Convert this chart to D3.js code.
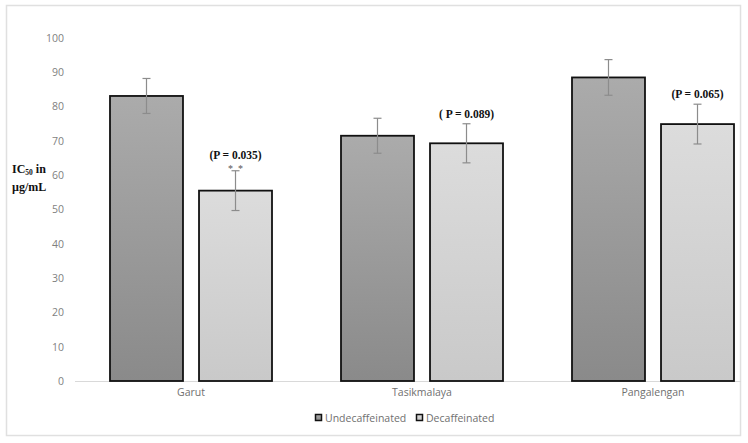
<!DOCTYPE html>
<html>
<head>
<meta charset="utf-8">
<script src="https://cdn.jsdelivr.net/npm/d3@7"></script>
<style>
  body { margin: 0; background: #fff; }
  text { font-family: "Open Sans", "Noto Sans", sans-serif; }
</style>
</head>
<body>
<div id="chart-container"></div>
<script>
var regions = ["Garut", "Tasikmalaya", "Pangalengan"];
var seriesNames = ["Undecaffeinated", "Decaffeinated"];
var undecafValues = [83.1, 71.5, 88.5];
var decafValues = [55.5, 69.3, 74.9];
var undecafErr = [5.1, 5.1, 5.2];
var decafErr = [5.8, 5.7, 5.8];
var pLabels = ["(P = 0.035)", "( P = 0.089)", "(P = 0.065)"];
var starLabels = ["*  *", "", ""];
var yTicks = [0, 10, 20, 30, 40, 50, 60, 70, 80, 90, 100];

var W = 748, H = 443;

var data = regions.map(function(r, i) {
  return {
    region: r,
    bars: [
      { series: seriesNames[0], value: undecafValues[i], err: undecafErr[i] },
      { series: seriesNames[1], value: decafValues[i], err: decafErr[i], p: pLabels[i], star: starLabels[i] }
    ]
  };
});

var svg = d3.select("#chart-container")
  .append("svg")
  .attr("width", W)
  .attr("height", H);

// gradients
var defs = svg.append("defs");
var grads = [
  { id: "g0", top: "#ababab", bottom: "#8a8a8a" },
  { id: "g1", top: "#dcdcdc", bottom: "#c9c9c9" }
];
grads.forEach(function(g) {
  var lg = defs.append("linearGradient")
    .attr("id", g.id)
    .attr("x1", 0).attr("y1", 0).attr("x2", 0).attr("y2", 1);
  lg.append("stop").attr("offset", "0%").attr("stop-color", g.top);
  lg.append("stop").attr("offset", "100%").attr("stop-color", g.bottom);
});

// frame
svg.append("rect")
  .attr("x", 6.5).attr("y", 5.5)
  .attr("width", 734).attr("height", 430)
  .attr("fill", "none")
  .attr("stroke", "#e0e0e0")
  .attr("stroke-width", 1.5);

var x0 = d3.scaleBand()
  .domain(regions)
  .range([75.5, 768.5]);

var x1 = d3.scaleBand()
  .domain(seriesNames)
  .range([34.5, x0.bandwidth() - 34.5])
  .paddingInner(0.18);

var y = d3.scaleLinear()
  .domain([0, 100])
  .range([381, 38]);

// y axis labels
var yAxis = d3.axisLeft(y).tickValues(yTicks).tickSize(0).tickPadding(0);
var yg = svg.append("g")
  .attr("transform", "translate(64,0)")
  .call(yAxis);
yg.select(".domain").remove();
yg.selectAll("text")
  .attr("fill", "#7f7f7f")
  .style("font-size", "10.5px");

// baseline
svg.append("line")
  .attr("x1", 75).attr("x2", 741)
  .attr("y1", y(0) + 0.5).attr("y2", y(0) + 0.5)
  .attr("stroke", "#d9d9d9")
  .attr("stroke-width", 1);

// x axis labels
var xAxis = d3.axisBottom(x0).tickSize(0).tickPadding(0);
var xg = svg.append("g")
  .attr("transform", "translate(0,389)")
  .call(xAxis);
xg.select(".domain").remove();
xg.selectAll("text")
  .attr("fill", "#6f6f6f")
  .style("font-size", "10.5px");

// bars
var groups = svg.selectAll(".group")
  .data(data)
  .enter()
  .append("g")
  .attr("class", "group")
  .attr("transform", function(d) { return "translate(" + x0(d.region) + ",0)"; });

var bar = groups.selectAll(".bar")
  .data(function(d) { return d.bars; })
  .enter();

bar.append("rect")
  .attr("class", "bar")
  .attr("x", function(d) { return x1(d.series); })
  .attr("y", function(d) { return y(d.value); })
  .attr("width", x1.bandwidth())
  .attr("height", function(d) { return y(0) - y(d.value); })
  .attr("fill", function(d, i) { return "url(#g" + seriesNames.indexOf(d.series) + ")"; })
  .attr("stroke", "#111")
  .attr("stroke-width", 1.8);

// error bars
var errColor = "#8c8c8c";
bar.append("line")
  .attr("x1", function(d) { return x1(d.series) + x1.bandwidth() / 2; })
  .attr("x2", function(d) { return x1(d.series) + x1.bandwidth() / 2; })
  .attr("y1", function(d) { return y(d.value + d.err); })
  .attr("y2", function(d) { return y(d.value - d.err); })
  .attr("stroke", errColor)
  .attr("stroke-width", 1.2);

[1, -1].forEach(function(s) {
  bar.append("line")
    .attr("x1", function(d) { return x1(d.series) + x1.bandwidth() / 2 - 4; })
    .attr("x2", function(d) { return x1(d.series) + x1.bandwidth() / 2 + 4; })
    .attr("y1", function(d) { return y(d.value + s * d.err); })
    .attr("y2", function(d) { return y(d.value + s * d.err); })
    .attr("stroke", errColor)
    .attr("stroke-width", 1.2);
});

// p-value annotations
var ann = groups.selectAll(".ann")
  .data(function(d) { return d.bars.filter(function(b) { return b.p; }); })
  .enter();

ann.append("text")
  .attr("x", function(d) { return x1(d.series) + x1.bandwidth() / 2; })
  .attr("y", function(d) { return y(d.value + d.err) - (d.star ? 12 : 6); })
  .attr("text-anchor", "middle")
  .style("font-family", "'Liberation Serif', 'DejaVu Serif', serif")
  .style("font-weight", "bold")
  .style("font-size", "11.5px")
  .attr("fill", "#111")
  .text(function(d) { return d.p; });

ann.filter(function(d) { return d.star; })
  .append("text")
  .attr("x", function(d) { return x1(d.series) + x1.bandwidth() / 2; })
  .attr("y", function(d) { return y(d.value + d.err) + 1; })
  .attr("text-anchor", "middle")
  .style("font-family", "'Liberation Serif', 'DejaVu Serif', serif")
  .style("font-size", "10px")
  .style("white-space", "pre")
  .attr("xml:space", "preserve")
  .attr("fill", "#555")
  .text(function(d) { return d.star; });

// y axis title
var yt = svg.append("text")
  .attr("x", 12)
  .attr("y", 173)
  .style("font-family", "'Liberation Serif', 'DejaVu Serif', serif")
  .style("font-weight", "bold")
  .style("font-size", "12px")
  .attr("fill", "#111");
yt.append("tspan").text("IC");
yt.append("tspan").attr("dy", 2).style("font-size", "7.5px").text("50");
yt.append("tspan").attr("dy", -2).text(" in");
svg.append("text")
  .attr("x", 12)
  .attr("y", 191)
  .style("font-family", "'Liberation Serif', 'DejaVu Serif', serif")
  .style("font-weight", "bold")
  .style("font-size", "12px")
  .attr("fill", "#111")
  .text("\u00b5g/mL");

// legend
var legendX = [315, 416];
var legend = svg.selectAll(".legend")
  .data(seriesNames)
  .enter()
  .append("g")
  .attr("class", "legend")
  .attr("transform", function(d, i) { return "translate(" + legendX[i] + ",414)"; });

legend.append("rect")
  .attr("x", 0.5).attr("y", 0.5)
  .attr("width", 6).attr("height", 6)
  .attr("fill", function(d, i) { return "url(#g" + i + ")"; })
  .attr("stroke", "#111")
  .attr("stroke-width", 1.5);

legend.append("text")
  .attr("x", 10)
  .attr("y", 8)
  .attr("fill", "#6f6f6f")
  .style("font-size", "10.5px")
  .text(function(d) { return d; });
</script>
</body>
</html>
